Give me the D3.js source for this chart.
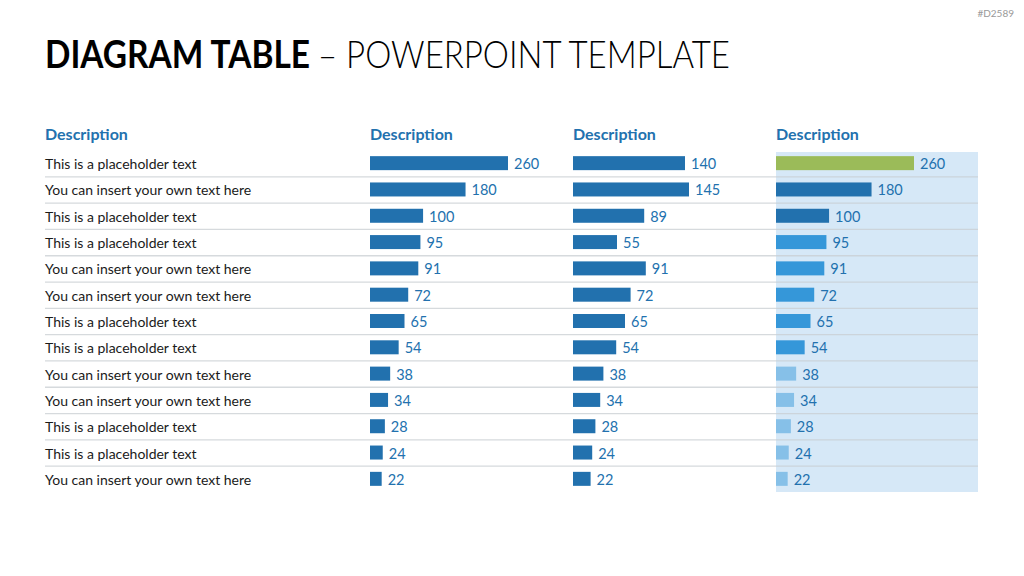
<!DOCTYPE html>
<html><head><meta charset="utf-8">
<script src="https://cdn.jsdelivr.net/npm/d3@7"></script>
<style>body{margin:0;background:#fff;} svg{display:block;}</style>
</head><body>
<svg id="c" width="1024" height="576"></svg>
<script>
const headers = ["Description","Description","Description","Description"];
const labels = ["This is a placeholder text","You can insert your own text here","This is a placeholder text","This is a placeholder text","You can insert your own text here","You can insert your own text here","This is a placeholder text","This is a placeholder text","You can insert your own text here","You can insert your own text here","This is a placeholder text","This is a placeholder text","You can insert your own text here"];
const col1 = [260,180,100,95,91,72,65,54,38,34,28,24,22];
const col2 = [140,145,89,55,91,72,65,54,38,34,28,24,22];
const col3 = [260,180,100,95,91,72,65,54,38,34,28,24,22];
const col3Tier = ["top","high","high","mid","mid","mid","mid","mid","low","low","low","low","low"];

const svg = d3.select("#c");
const FONT = "Lato, 'Open Sans', sans-serif";
const BLUE = "#2271ae";
const tierColor = d3.scaleOrdinal().domain(["top","high","mid","low"]).range(["#9bbb59","#2271ae","#3597d9","#86c0e8"]);

// code
svg.append("text").attr("x",1014).attr("y",17).attr("text-anchor","end")
  .attr("font-family",FONT).attr("font-size",10).attr("fill","#999").text("#D2589");

// title
const t = svg.append("text").attr("y",68).attr("font-family",FONT).attr("font-size",38).attr("fill","#000");
t.append("tspan").attr("x",45).attr("font-weight",700).attr("textLength",265).attr("lengthAdjust","spacingAndGlyphs").text("DIAGRAM TABLE");
t.append("tspan").attr("x",318).attr("font-weight",300).attr("textLength",412).attr("lengthAdjust","spacingAndGlyphs").text("– POWERPOINT TEMPLATE");

const colX = [45,370,573,776];
const y = d3.scaleBand().domain(d3.range(labels.length)).range([150,492]).paddingInner(0);
const rowC = i => y(i) + y.bandwidth()/2;

// highlight panel
svg.append("rect").attr("x",776).attr("y",y(0)+2).attr("width",202).attr("height",y.range()[1]-y(0)-2).attr("fill","#d6e8f7");

// headers
svg.selectAll("text.hdr").data(headers).join("text").attr("class","hdr")
  .attr("x",(d,i)=>colX[i]).attr("y",140).attr("font-family",FONT).attr("font-weight",700)
  .attr("font-size",16).attr("fill",BLUE).text(d=>d);

// separators
svg.selectAll("line.sep").data(d3.range(labels.length-1)).join("line").attr("class","sep")
  .attr("x1",45).attr("x2",978).attr("y1",i=>y(i+1)+0.5).attr("y2",i=>y(i+1)+0.5)
  .attr("stroke","#c8cdd2").attr("stroke-opacity",0.75).attr("stroke-width",1.3);

// labels
svg.selectAll("text.lbl").data(labels).join("text").attr("class","lbl")
  .attr("x",45).attr("y",(d,i)=>rowC(i)+6).attr("font-family",FONT).attr("font-size",14).attr("fill","#1a1a1a").text(d=>d);

const BH = 14;
function barCol(data, x0, scale, colorFn){
  const g = svg.append("g");
  g.selectAll("rect").data(data).join("rect")
    .attr("x",x0).attr("y",(d,i)=>rowC(i)-BH/2).attr("width",d=>scale(d)).attr("height",BH)
    .attr("fill",(d,i)=>colorFn(i));
  g.selectAll("text").data(data).join("text")
    .attr("x",d=>x0+scale(d)+6).attr("y",(d,i)=>rowC(i)+6).attr("font-family",FONT)
    .attr("font-size",14.5).attr("fill",BLUE).text(d=>d);
}
const s1 = d3.scaleLinear().domain([0,260]).range([0,138]);
const s2 = d3.scaleLinear().domain([0,145]).range([0,116]);
barCol(col1, colX[1], s1, ()=>BLUE);
barCol(col2, colX[2], s2, ()=>BLUE);
barCol(col3, colX[3], s1, i=>tierColor(col3Tier[i]));
</script>
</body></html>
